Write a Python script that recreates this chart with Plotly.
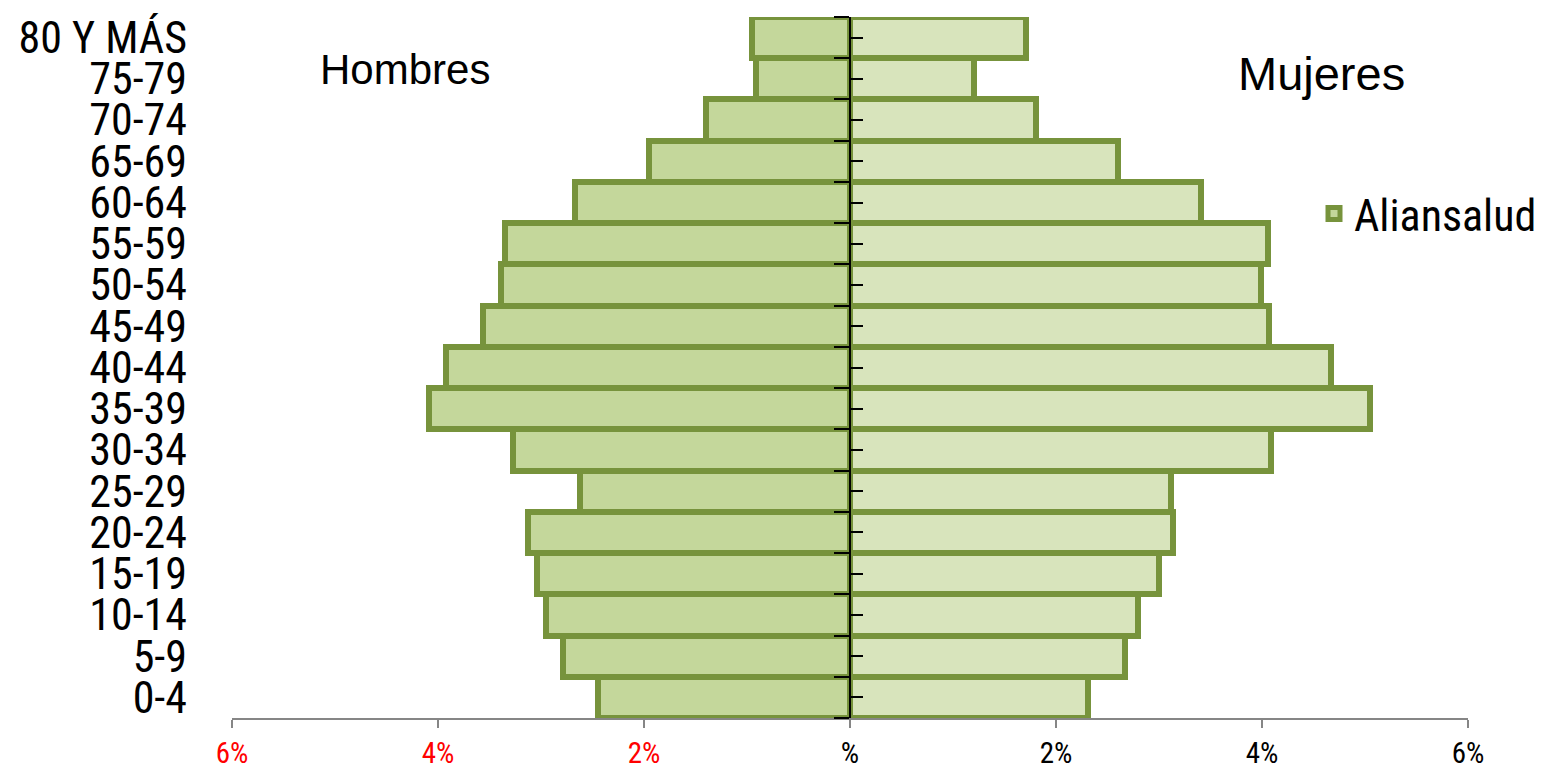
import plotly.graph_objects as go

# ---- data ----
age_groups = ["0-4", "5-9", "10-14", "15-19", "20-24", "25-29", "30-34", "35-39",
              "40-44", "45-49", "50-54", "55-59", "60-64", "65-69", "70-74", "75-79",
              "80 Y MÁS"]
hombres = [2.45, 2.79, 2.95, 3.04, 3.13, 2.62, 3.27, 4.09,
           3.92, 3.56, 3.39, 3.35, 2.67, 1.95, 1.40, 0.91, 0.95]
mujeres = [2.31, 2.67, 2.80, 3.00, 3.14, 3.12, 4.09, 5.05,
           4.67, 4.07, 3.99, 4.06, 3.41, 2.60, 1.81, 1.20, 1.71]
x_tickvals = [-6, -4, -2, 0, 2, 4, 6]
x_ticktext = ["<span style='color:#FF0000'>6%</span>",
              "<span style='color:#FF0000'>4%</span>",
              "<span style='color:#FF0000'>2%</span>",
              "%", "2%", "4%", "6%"]
series_name = "Aliansalud"

BORDER = "#77933C"
FILL_M = "#C4D79B"
FILL_F = "#D8E4BC"
NARROW = "Liberation Sans Narrow, Arial Narrow, Roboto Condensed, Liberation Sans, sans-serif"
SANS = "Liberation Sans, Arial, sans-serif"

# page offset (body margin) compensation
OFF = 8
W, H = 1544, 771
PL, PR, PT, PB = 232 - OFF, 1468 - OFF, 17 - OFF, 718 - OFF
PW, PH = PR - PL, PB - PT


def px(x):
    return (x - OFF - PL) / PW


def py(y):
    return 1 - (y - OFF - PT) / PH


fig = go.Figure()
fig.add_trace(go.Bar(
    y=age_groups, x=[-v for v in hombres], orientation="h", name=series_name,
    marker=dict(color=FILL_M, line=dict(color=BORDER, width=6)),
    showlegend=True, hoverinfo="skip"))
fig.add_trace(go.Bar(
    y=age_groups, x=mujeres, orientation="h", name=series_name,
    marker=dict(color=FILL_F, line=dict(color=BORDER, width=6)),
    showlegend=False, hoverinfo="skip"))
# helpers so the overlay axes (centre axis line and ticks) get drawn
for ax in ("y2", "y3"):
    fig.add_trace(go.Scatter(x=[None], y=[None], yaxis=ax, mode="markers",
                             showlegend=False, hoverinfo="skip"))

n = len(age_groups)
fig.update_layout(
    width=W, height=H,
    margin=dict(l=PL, r=W - PR, t=PT, b=H - PB),
    paper_bgcolor="white", plot_bgcolor="white",
    barmode="relative", bargap=0,
    font=dict(family=NARROW, color="black"),
    xaxis=dict(range=[-6, 6], tickvals=x_tickvals, ticktext=x_ticktext,
               showgrid=False, zeroline=False, automargin=False,
               showline=True, linecolor="#868686", linewidth=1.5,
               ticks="outside", ticklen=8, tickcolor="#868686", tickwidth=1.5,
               tickfont=dict(family=NARROW, size=29, color="black")),
    yaxis=dict(type="category", categoryorder="array", categoryarray=age_groups,
               tickmode="array", tickvals=age_groups, ticktext=age_groups,
               range=[-0.5, n - 0.5], automargin=False,
               showgrid=False, zeroline=False, showline=False, ticks="",
               ticklabelstandoff=44,
               tickfont=dict(family=NARROW, size=44, color="black")),
    yaxis2=dict(overlaying="y", anchor="free", position=0.5, side="left",
                range=[-0.5, n - 0.5], showgrid=False, zeroline=False,
                showline=True, linecolor="black", linewidth=2, automargin=False,
                tickmode="linear", tick0=-0.5, dtick=1,
                ticks="outside", ticklen=15, tickcolor="black", tickwidth=1.5,
                showticklabels=False),
    yaxis3=dict(overlaying="y", anchor="free", position=0.5, side="left",
                range=[-0.5, n - 0.5], showgrid=False, zeroline=False,
                showline=False, tickmode="linear", tick0=0, dtick=1, automargin=False,
                ticks="inside", ticklen=12, tickcolor="black", tickwidth=1.5,
                showticklabels=False),
    legend=dict(x=px(1542), y=py(214), xanchor="right", yanchor="middle",
                font=dict(family=NARROW, size=44, color="black"),
                bgcolor="rgba(0,0,0,0)"),
    annotations=[
        dict(text="Hombres", xref="paper", yref="paper", x=px(405), y=py(69),
             xanchor="center", yanchor="middle", showarrow=False,
             font=dict(family=SANS, size=42, color="black")),
        dict(text="Mujeres", xref="paper", yref="paper", x=px(1321), y=py(73),
             xanchor="center", yanchor="middle", showarrow=False,
             font=dict(family=SANS, size=47, color="black")),
    ],
)

fig.write_html("out.html")
